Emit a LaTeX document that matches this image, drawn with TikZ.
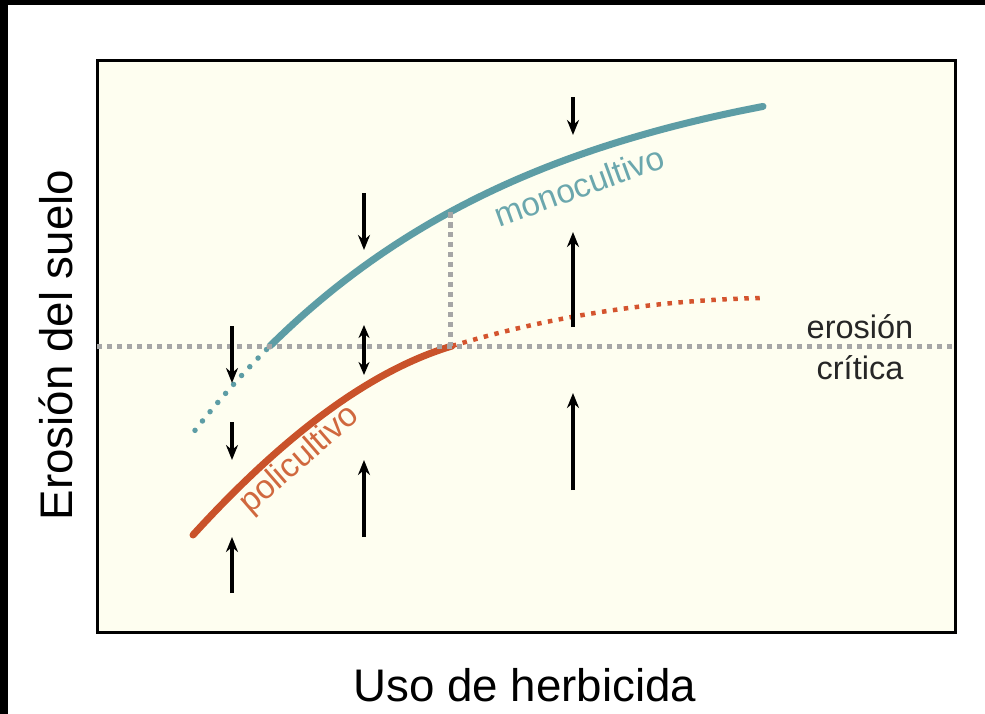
\documentclass[tikz,border=0pt]{standalone}
\usepackage{fontspec}
\setmainfont{Liberation Sans}
\usetikzlibrary{arrows.meta}
\usetikzlibrary{positioning}

\definecolor{crema}{HTML}{FEFEF0}
\definecolor{gris}{HTML}{A6A6A6}
\definecolor{verdeazul}{HTML}{5D9DA5}
\definecolor{textomono}{HTML}{6BA7AD}
\definecolor{oxido}{HTML}{C9522A}
\definecolor{rojizo}{HTML}{D4542E}
\definecolor{textopoli}{HTML}{D0683E}

\tikzset{
    limite/.style={draw=gris, line width=0.1cm, dash pattern=on 0.11cm off 0.09cm},
    mono/.style={draw=verdeazul, line width=0.14cm},
    poli/.style={draw=oxido, line width=0.14cm},
    punteado/.style={line width=0.11cm, line cap=round, dash pattern=on 0pt off 0.24cm},
    punta/.style={Stealth[length=0.3cm,width=0.24cm]},
    flecha/.style={line width=0.07cm, -{Stealth[length=0.3cm,width=0.24cm]}},
    eje/.style={font=\fontsize{26}{30}\selectfont},
    curva/.style={font=\fontsize{19}{22}\selectfont}
}

\begin{document}
\begin{tikzpicture}[x=0.02cm,y=-0.02cm]
    \useasboundingbox (0,0) rectangle (985,714);
    \fill[black] (0,0) rectangle (985,714);
    \fill[white] (8,5) rectangle (985,714);
    \filldraw[fill=crema, draw=black, line width=0.06cm] (97,60) rectangle (955,632);

    % monocultivo
    \draw[verdeazul, punteado] plot[domain=195:270, samples=12]
        (\x, {49+297*exp(-(\x-270)/300)});
    \draw[mono, line cap=round] plot[domain=270:763, samples=60]
        (\x, {49+297*exp(-(\x-270)/300)});
    % policultivo
    \draw[poli, line cap=round] (193,535) .. controls (286,433) and (372,370) .. (452,346);
    \draw[rojizo, line width=0.09cm, dash pattern=on 0.09cm off 0.13cm]
        (452,346) .. controls (551,316) and (655,300) .. (763,298);

    % erosion critica
    \coordinate (critA) at (97,346);
    \coordinate (critB) at (955,346);
    \coordinate (vtop) at (450,212);
    \coordinate (vbot) at (450,346);
    \draw[limite] (critA) -- (critB);
    \draw[limite] (vtop) -- (vbot);

    \foreach \x/\a/\b in {232/326/383, 232/422/460, 232/593/537,
                          364/193/250, 364/537/460,
                          573/97/135, 573/327/232, 573/490/393}
        \draw[flecha] (\x,\a) -- (\x,\b);
    \draw[line width=0.07cm, {Stealth[length=0.26cm,width=0.22cm]}-{Stealth[length=0.26cm,width=0.22cm]}]
        (364,325) -- (364,375);

    \node[curva, text=textomono, rotate=20] (mono) at (579,186) {monocultivo};
    \node[curva, text=textopoli, rotate=41] (poli) at (300,460) {policultivo};
    \node[align=center, text=black!85, font=\fontsize{18.5}{23}\selectfont] (crit) at (860,347) {erosión\\crítica};

    \node[eje] (ejex) at (525,685) {Uso de herbicida};
    \node[eje, rotate=90] (ejey) at (56,345) {Erosión del suelo};
\end{tikzpicture}
\end{document}
